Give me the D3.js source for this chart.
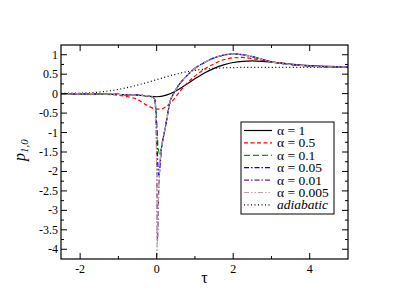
<!DOCTYPE html>
<html><head><meta charset="utf-8">
<script src="https://cdn.jsdelivr.net/npm/d3@7"></script>
<style>body{margin:0;background:#fff}svg{display:block}text{font-family:"Liberation Serif","Times New Roman",Times,serif}</style>
</head><body><svg id="c" width="394" height="305"></svg>
<script>
// ---- data ----
const tauA1 = [-2.5,-2,-1.5,-1,-0.5,-0.25,0,0.25,0.5,0.75,1,1.25,1.5,1.75,2,2.25,2.5,2.75,3,3.5,4,4.5,5];
const pA1   = [0,-0.005,-0.01,-0.02,-0.04,-0.06,-0.08,-0.04,0.07,0.22,0.38,0.53,0.65,0.74,0.8,0.83,0.84,0.83,0.81,0.76,0.72,0.7,0.69];
const tauA05 = [-2.5,-2,-1.5,-1,-0.75,-0.5,-0.25,0,0.1,0.25,0.4,0.5,0.6,0.75,1,1.25,1.5,1.75,2,2.25,2.5,3,3.5,4,4.5,5];
const pA05   = [0,-0.005,-0.015,-0.04,-0.08,-0.15,-0.3,-0.4,-0.4,-0.33,-0.2,-0.08,0.05,0.22,0.45,0.63,0.77,0.87,0.92,0.93,0.9,0.82,0.75,0.71,0.69,0.69];
const tauA01 = [-2.5,-2,-1,-0.5,-0.3,-0.15,-0.05,0,0.04,0.08,0.13,0.2,0.26,0.3,0.35,0.4,0.5,0.6,0.75,1,1.25,1.5,1.75,2,2.25,2.5,2.75,3,3.5,4,4.5,5];
const pA01   = [0,-0.005,-0.02,-0.04,-0.05,-0.07,-0.15,-0.7,-1.4,-1.55,-1.37,-1.0,-0.68,-0.45,-0.2,-0.08,0.1,0.25,0.42,0.65,0.8,0.92,0.99,1.02,1.0,0.95,0.88,0.82,0.75,0.71,0.69,0.69];
const tauA005 = [-2.5,-2,-1,-0.5,-0.3,-0.15,-0.05,0,0.03,0.06,0.09,0.13,0.2,0.26,0.3,0.35,0.4,0.5,0.6,0.75,1,1.25,1.5,1.75,2,2.25,2.5,2.75,3,3.5,4,4.5,5];
const pA005   = [0,-0.005,-0.02,-0.04,-0.05,-0.07,-0.15,-0.9,-1.8,-2.1,-1.85,-1.37,-1.0,-0.68,-0.45,-0.2,-0.08,0.1,0.25,0.42,0.65,0.8,0.92,0.99,1.02,1.0,0.95,0.88,0.82,0.75,0.71,0.69,0.69];
const tauA001 = [-2.5,-2,-1,-0.5,-0.3,-0.15,-0.05,0,0.02,0.05,0.08,0.13,0.2,0.26,0.3,0.35,0.4,0.5,0.6,0.75,1,1.25,1.5,1.75,2,2.25,2.5,2.75,3,3.5,4,4.5,5];
const pA001   = [0,-0.005,-0.02,-0.04,-0.05,-0.07,-0.15,-1.5,-3.8,-2.6,-1.9,-1.37,-1.0,-0.68,-0.45,-0.2,-0.08,0.1,0.25,0.42,0.65,0.8,0.92,0.99,1.02,1.0,0.95,0.88,0.82,0.75,0.71,0.69,0.69];
const tauA0005 = [-2.5,-2,-1,-0.5,-0.3,-0.15,-0.05,0,0.01,0.03,0.05,0.08,0.13,0.2,0.26,0.3,0.35,0.4,0.5,0.6,0.75,1,1.25,1.5,1.75,2,2.25,2.5,2.75,3,3.5,4,4.5,5];
const pA0005   = [0,-0.005,-0.02,-0.04,-0.05,-0.07,-0.15,-2.0,-4.2,-3.2,-2.6,-1.9,-1.37,-1.0,-0.68,-0.45,-0.2,-0.08,0.1,0.25,0.42,0.65,0.8,0.92,0.99,1.02,1.0,0.95,0.88,0.82,0.75,0.71,0.69,0.69];
const tauAd = [-2.5,-2,-1.5,-1,-0.5,0,0.5,1,1.5,2,2.5,3,3.5,4,4.5,5];
const pAd   = [0.01,0.015,0.04,0.11,0.22,0.36,0.5,0.6,0.65,0.67,0.675,0.675,0.675,0.675,0.675,0.675];

const seriesNames = ["α = 1","α = 0.5","α = 0.1","α = 0.05","α = 0.01","α = 0.005","adiabatic"];
const xTicks = [-2,0,2,4];
const xMinor = [-1,1,3];
const yTicks = [1,0.5,0,-0.5,-1,-1.5,-2,-2.5,-3,-3.5,-4];
const yTickLabels = ["1","0.5","0","-0.5","-1","-1.5","-2","-2.5","-3","-3.5","-4"];
const yMinor = [0.75,0.25,-0.25,-0.75,-1.25,-1.75,-2.25,-2.75,-3.25,-3.75];

// ---- drawing ----
const svg = d3.select("#c");
const L=61,R=348,T=45,B=259;
const x = d3.scaleLinear().domain([-2.5,5]).range([L,R]);
const y = d3.scaleLinear().domain([-4.25,1.25]).range([B,T]);

const styles = [
  {c:"#000000", d:null},
  {c:"#ff0000", d:"4,2.5"},
  {c:"#00a000", d:"6,3"},
  {c:"#0000ff", d:"5,2,1.5,2"},
  {c:"#7a1f6e", d:"5,2,1.5,2"},
  {c:"#bba3a3", d:"5,2,1.5,2,1.5,2"},
  {c:"#000000", d:"1,2.5"}
];
const data = [[tauA1,pA1],[tauA05,pA05],[tauA01,pA01],[tauA005,pA005],[tauA001,pA001],[tauA0005,pA0005],[tauAd,pAd]];

svg.append("clipPath").attr("id","clip").append("rect").attr("x",L).attr("y",T).attr("width",R-L).attr("height",B-T);
const line = d3.line().x(d=>x(d[0])).y(d=>y(d[1])).curve(d3.curveMonotoneX);
const gL = svg.append("g").attr("clip-path","url(#clip)");
[6,0,1,2,3,4,5].forEach(i=>{
  const pts = data[i][0].map((t,k)=>[t,data[i][1][k]]);
  gL.append("path").attr("d",line(pts)).attr("fill","none")
    .attr("stroke",styles[i].c).attr("stroke-width",1.2)
    .attr("stroke-dasharray",styles[i].d);
});

// axes with inward ticks, mirrored
const ax = svg.append("g").attr("stroke","#000").attr("stroke-width",1);
function tick(x1,y1,x2,y2){ax.append("line").attr("x1",x1).attr("y1",y1).attr("x2",x2).attr("y2",y2);}
xTicks.forEach(v=>{tick(x(v),B,x(v),B-6);tick(x(v),T,x(v),T+6);});
xMinor.forEach(v=>{tick(x(v),B,x(v),B-3);tick(x(v),T,x(v),T+3);});
yTicks.forEach(v=>{tick(L,y(v),L+6,y(v));tick(R,y(v),R-6,y(v));});
yMinor.forEach(v=>{tick(L,y(v),L+3,y(v));tick(R,y(v),R-3,y(v));});
svg.append("rect").attr("x",L).attr("y",T).attr("width",R-L).attr("height",B-T)
  .attr("fill","none").attr("stroke","#000").attr("stroke-width",1.2);

xTicks.forEach(v=>svg.append("text").attr("x",x(v)).attr("y",B+14).attr("text-anchor","middle")
  .attr("font-size",12).text(v<0?"-"+Math.abs(v):String(v)));
yTicks.forEach((v,i)=>svg.append("text").attr("x",L-3).attr("y",y(v)+4).attr("text-anchor","end")
  .attr("font-size",12).text(yTickLabels[i]));

svg.append("text").attr("x",(L+R)/2).attr("y",B+24).attr("text-anchor","middle")
  .attr("font-size",16).text("τ");
const yl = svg.append("text").attr("transform","translate(25,150) rotate(-90)").attr("text-anchor","middle")
  .attr("font-style","italic").attr("font-size",16);
yl.append("tspan").text("p");
yl.append("tspan").attr("font-size",11).attr("dy",3).text("1,0");

// legend
const lg = svg.append("g");
lg.append("rect").attr("x",241).attr("y",122).attr("width",93).attr("height",92)
  .attr("fill","#fff").attr("stroke","#000").attr("stroke-width",1);
seriesNames.forEach((n,i)=>{
  const yy = 130.5 + i*12.4;
  lg.append("line").attr("x1",244).attr("x2",272).attr("y1",yy).attr("y2",yy)
    .attr("stroke",styles[i].c).attr("stroke-width",1.2).attr("stroke-dasharray",styles[i].d);
  lg.append("text").attr("x",277).attr("y",yy+4.5).attr("font-size",13.5)
    .attr("font-style",i===6?"italic":"normal").text(n);
});
</script></body></html>
